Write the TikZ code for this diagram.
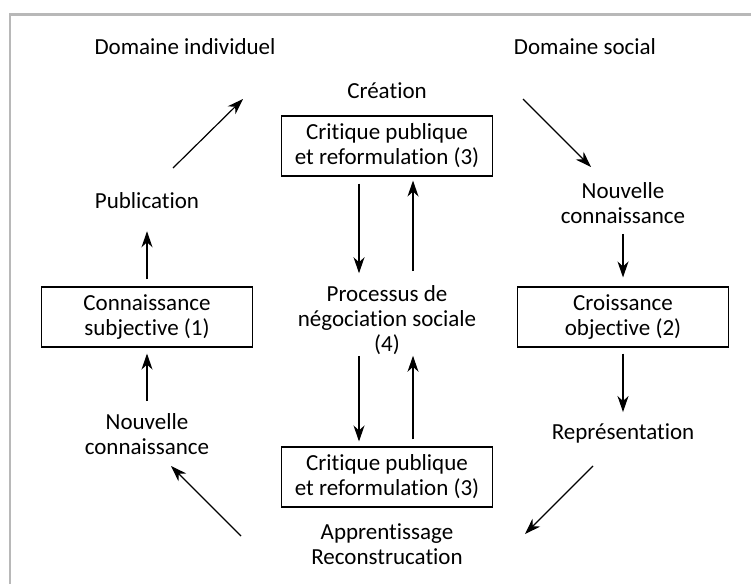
\documentclass[tikz,border=0pt]{standalone}
\usepackage{fontspec}
\setmainfont{Carlito}[RawFeature={-liga}]
\usetikzlibrary{arrows.meta}

\tikzset{
  lbl/.style={font=\fontsize{23}{25}\selectfont, align=center, inner sep=0pt},
  boite/.style={lbl, draw, line width=1.1pt, minimum width=211pt, minimum height=60pt},
  fleche/.style={-{Stealth[length=16pt,width=11pt,inset=5pt]}, line width=1.2pt},
}

\begin{document}
\begin{tikzpicture}[x=1pt, y=-1pt]
    \useasboundingbox (0,0) rectangle (751,584);
    % cadre
    \draw[black!28, line width=2.6pt] (10,584) -- (10,14.5) -- (751,14.5);

    % domaines
    \node[lbl] (domind) at (185,47) {Domaine individuel};
    \node[lbl] (domsoc) at (585,47) {Domaine social};

    % colonne centrale
    \node[lbl]   (creation) at (387,91)  {Création};
    \node[boite] (crithaut) at (387,146) {Critique publique\\et reformulation (3)};
    \node[lbl]   (processus) at (387,320) {Processus de\\négociation sociale\\(4)};
    \node[boite] (critbas) at (387,477) {Critique publique\\et reformulation (3)};
    \node[lbl]   (apprent) at (387,544) {Apprentissage\\Reconstrucation};

    % colonne gauche
    \node[lbl]   (publication) at (147,201) {Publication};
    \node[boite] (subjective) at (147,317) {Connaissance\\subjective (1)};
    \node[lbl]   (nouvg) at (147,434) {Nouvelle\\connaissance};

    % colonne droite
    \node[lbl]   (nouvd) at (623,203) {Nouvelle\\connaissance};
    \node[boite] (objective) at (623,317) {Croissance\\objective (2)};
    \node[lbl]   (represent) at (623,433) {Représentation};

    % fleches verticales
    \draw[fleche, shorten <=7pt, shorten >=22pt] (subjective.north) -- (publication.south);
    \draw[fleche, shorten <=12pt, shorten >=6pt] (nouvg.north) -- (subjective.south);
    \draw[fleche, shorten <=10pt, shorten >=9pt] (nouvd.south) -- (objective.north);
    \draw[fleche, shorten <=6pt, shorten >=11pt] (objective.south) -- (represent.north);

    \draw[fleche, shorten <=7pt, shorten >=12pt]
        ([xshift=-28pt]crithaut.south) -- ([xshift=-28pt]processus.north);
    \draw[fleche, shorten <=14pt, shorten >=4pt]
        ([xshift=26pt]processus.north) -- ([xshift=26pt]crithaut.south);
    \draw[fleche, shorten <=1pt, shorten >=5pt]
        ([xshift=-28pt]processus.south) -- ([xshift=-28pt]critbas.north);
    \draw[fleche, shorten <=7pt, shorten >=1pt]
        ([xshift=26pt]critbas.north) -- ([xshift=26pt]processus.south);

    % fleches obliques
    \coordinate (hg1) at (173,168);
    \coordinate (hg2) at (243,99);
    \coordinate (hd1) at (523,99);
    \coordinate (hd2) at (591,167);
    \coordinate (bd1) at (593,466);
    \coordinate (bd2) at (525,534);
    \coordinate (bg1) at (241,536);
    \coordinate (bg2) at (171,466);
    \draw[fleche] (hg1) -- (hg2);
    \draw[fleche] (hd1) -- (hd2);
    \draw[fleche] (bd1) -- (bd2);
    \draw[fleche] (bg1) -- (bg2);
\end{tikzpicture}
\end{document}
